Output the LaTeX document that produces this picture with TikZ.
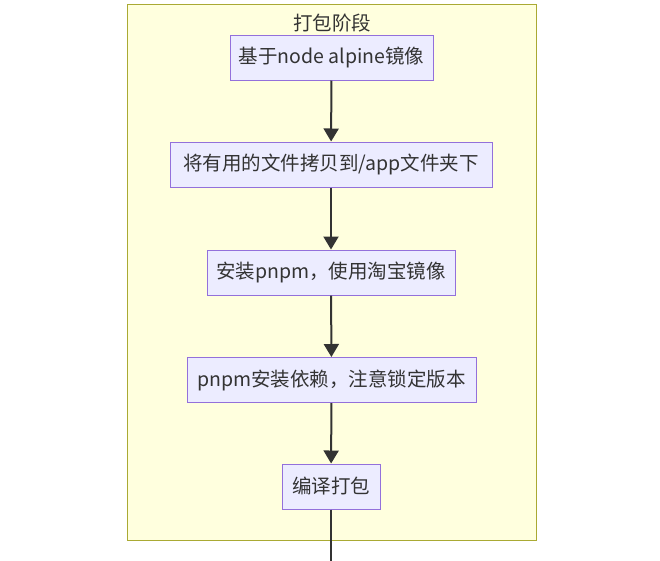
\documentclass[tikz,border=0pt]{standalone}
\usepackage{fontspec}
\setmainfont{Noto Sans CJK SC}
\usetikzlibrary{arrows.meta}
\definecolor{clfill}{HTML}{FFFFDE}
\definecolor{clborder}{HTML}{AAAA33}
\definecolor{ndfill}{HTML}{ECECFF}
\definecolor{ndborder}{HTML}{9370DB}
\definecolor{txt}{HTML}{333333}
\tikzset{
  stepbox/.style={draw=ndborder, fill=ndfill, line width=1pt, text=txt, font=\fontsize{19.5}{22}\selectfont, inner sep=0pt, minimum height=45pt},
  flow/.style={draw=txt, line width=2pt, -{Triangle[length=13pt,width=15pt]}},
}
\begin{document}
\begin{tikzpicture}[x=1pt,y=-1pt]
\useasboundingbox (0,0) rectangle (660,560);
\fill[white] (0,0) rectangle (660,560);
\node[draw=clborder, fill=clfill, line width=1pt, minimum width=409pt, minimum height=536pt, inner sep=0pt] (cluster) at (331.5,272) {};
\node[text=txt, font=\fontsize{19.5}{22}\selectfont] (title) at (332,23) {打包阶段};
\node[stepbox, minimum width=203pt] (n1) at (331.5,57.5) {基于node alpine镜像};
\node[stepbox, minimum width=322pt] (n2) at (331,164.5) {将有用的文件拷贝到/app文件夹下};
\node[stepbox, minimum width=248pt] (n3) at (331,272.5) {安装pnpm，使用淘宝镜像};
\node[stepbox, minimum width=289pt] (n4) at (331.5,380) {pnpm安装依赖，注意锁定版本};
\node[stepbox, minimum width=98pt] (n5) at (331,486.5) {编译打包};
\coordinate (out) at (331,562);
\draw[flow] (n1) -- (n2);
\draw[flow] (n2) -- (n3);
\draw[flow] (n3) -- (n4);
\draw[flow] (n4) -- (n5);
\draw[draw=txt, line width=2pt] (n5) -- (out);
\end{tikzpicture}
\end{document}
